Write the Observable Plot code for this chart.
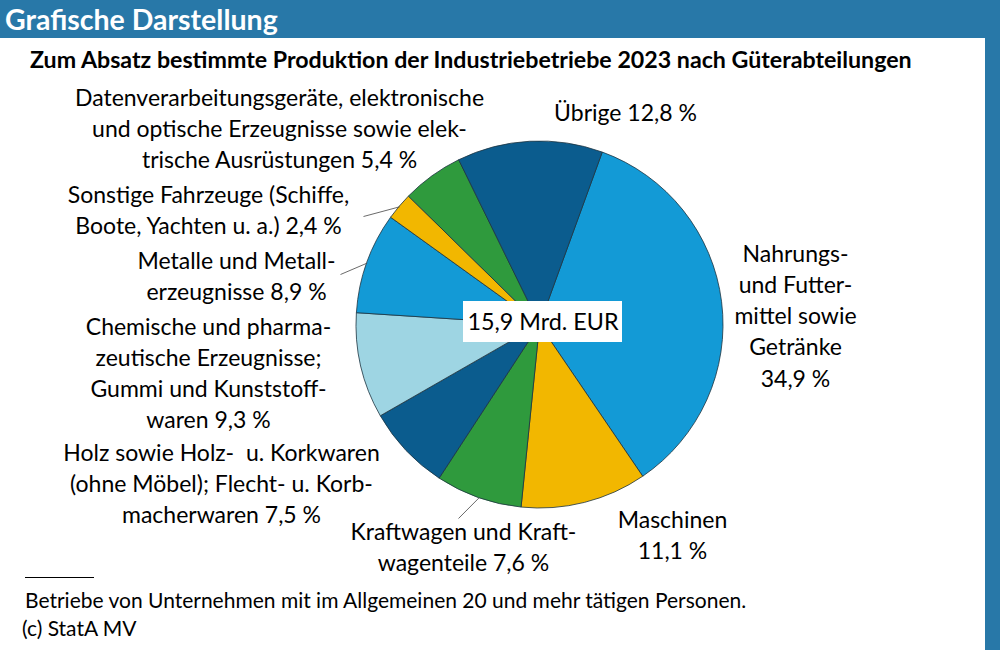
<!DOCTYPE html>
<html><head><meta charset="utf-8">
<script src="https://cdn.jsdelivr.net/npm/d3@7"></script>
<script src="https://cdn.jsdelivr.net/npm/@observablehq/plot@0.6"></script>
<style>
body{margin:0;width:1000px;height:650px;position:relative;overflow:hidden;background:#fff;font-family:Lato,"Open Sans",sans-serif;color:#000}
#hdr{position:absolute;left:0;top:0;width:1000px;height:38px;background:#2878a8;color:#fff;font-weight:bold;font-size:28.5px;line-height:38px;padding-left:5px;box-sizing:border-box;white-space:nowrap}
#side{position:absolute;left:985px;top:38px;width:15px;height:612px;background:#2878a8}
#title{position:absolute;left:30px;top:45px;font-weight:bold;font-size:23.2px;line-height:28px;white-space:nowrap}
#chart{position:absolute;left:0;top:75px}
#rule{position:absolute;left:25px;top:577px;width:69px;height:0;border-top:1.5px solid #000}
#note{position:absolute;left:25px;top:587px;font-size:21px;line-height:26px;white-space:nowrap}
#src{position:absolute;left:22px;top:615px;font-size:21px;line-height:26px;white-space:nowrap}
</style></head>
<body>
<div id="hdr">Grafische Darstellung</div>
<div id="side"></div>
<div id="title">Zum Absatz bestimmte Produktion der Industriebetriebe 2023 nach Güterabteilungen</div>
<div id="chart"></div>
<div id="rule"></div>
<div id="note">Betriebe von Unternehmen mit im Allgemeinen 20 und mehr tätigen Personen.</div>
<div id="src">(c) StatA MV</div>
<script>
// ---- data ----
const categories = [
  "Nahrungs- und Futtermittel sowie Getränke",
  "Maschinen",
  "Kraftwagen und Kraftwagenteile",
  "Holz sowie Holz- u. Korkwaren (ohne Möbel); Flecht- u. Korbmacherwaren",
  "Chemische und pharmazeutische Erzeugnisse; Gummi und Kunststoffwaren",
  "Metalle und Metallerzeugnisse",
  "Sonstige Fahrzeuge (Schiffe, Boote, Yachten u. a.)",
  "Datenverarbeitungsgeräte, elektronische und optische Erzeugnisse sowie elektrische Ausrüstungen",
  "Übrige"
];
const shares = [34.9, 11.1, 7.6, 7.5, 9.3, 8.9, 2.4, 5.4, 12.8];
const labels = [
  "Nahrungs-\nund Futter-\nmittel sowie\nGetränke\n34,9 %",
  "Maschinen\n11,1 %",
  "Kraftwagen und Kraft-\nwagenteile 7,6 %",
  "Holz sowie Holz-  u. Korkwaren\n(ohne Möbel); Flecht- u. Korb-\nmacherwaren 7,5 %",
  "Chemische und pharma-\nzeutische Erzeugnisse;\nGummi und Kunststoff-\nwaren 9,3 %",
  "Metalle und Metall-\nerzeugnisse 8,9 %",
  "Sonstige Fahrzeuge (Schiffe,\nBoote, Yachten u. a.) 2,4 %",
  "Datenverarbeitungsgeräte, elektronische\nund optische Erzeugnisse sowie elek-\ntrische Ausrüstungen 5,4 %",
  "Übrige 12,8 %"
];
const totalLabel = "15,9 Mrd. EUR";
const colors = ["#139ad6", "#f2b700", "#2f9a3d", "#0b5c8e", "#9ed5e3", "#139ad6", "#f2b700", "#2f9a3d", "#0b5c8e"];

// ---- layout ----
const W = 985, H = 500, top0 = 75;
const cx = 539.5, cy = 324.5, R = 183.5;
const startDeg = 20;
const labelPos = [
  [795, 314], [672, 533], [463, 545], [221, 482], [208, 371], [236, 274], [208, 208], [279, 127], [625, 111]
];
const leaderEnds = {5: [340, 274], 6: [363, 216], 2: [458, 518]};

const rows = categories.map((c, i) => ({cat: c, value: shares[i], label: labels[i], lx: labelPos[i][0], ly: labelPos[i][1]}));
const pie = d3.pie().value(d => d.value).sort(null)
  .startAngle(startDeg * Math.PI / 180).endAngle(startDeg * Math.PI / 180 + 2 * Math.PI);
const arcs = pie(rows);
const leaders = Object.entries(leaderEnds).map(([i, e]) => {
  const a = arcs[+i]; const m = (a.startAngle + a.endAngle) / 2;
  return {x1: cx + R * Math.sin(m), y1: cy - R * Math.cos(m), x2: e[0], y2: e[1]};
});

function pieMark(index, scales, values, dims) {
  const x = scales.x, y = scales.y;
  const color = scales.color || d3.scaleOrdinal(categories, colors);
  const px = x(cx), py = y(cy);
  const pr = x(cx + R) - px;
  const arc = d3.arc().innerRadius(0).outerRadius(pr);
  const g = d3.create("svg:g").attr("transform", `translate(${px},${py})`);
  g.selectAll("path").data(arcs).join("path")
    .attr("d", arc)
    .attr("fill", d => color(d.data.cat))
    .attr("stroke", "#1d3340")
    .attr("stroke-width", 0.8)
    .attr("stroke-linejoin", "round");
  return g.node();
}

const plot = Plot.plot({
  width: W, height: H,
  margin: 0,
  x: {domain: [0, W], range: [0, W], axis: null},
  y: {domain: [top0, top0 + H], range: [0, H], axis: null},
  color: {type: "ordinal", domain: categories, range: colors},
  style: {fontFamily: "Lato, 'Open Sans', sans-serif", background: "transparent", overflow: "visible"},
  marks: [
    pieMark,
    Plot.link(leaders, {x1: "x1", y1: "y1", x2: "x2", y2: "y2", stroke: "#444", strokeWidth: 0.8}),
    Plot.rect([0], {x1: () => cx - 76.5, x2: () => cx + 82.5, y1: () => cy - 23.5, y2: () => cy + 17.5, fill: "white"}),
    Plot.text([totalLabel], {x: () => cx + 3, y: () => cy - 2, text: d => d, fontSize: 23.3, fill: "#000"}),
    Plot.text(rows, {x: "lx", y: "ly", text: "label", fontSize: 23, lineHeight: 1.35, textAnchor: "middle", lineAnchor: "middle", fill: "#000"})
  ]
});
document.getElementById("chart").appendChild(plot);
</script>
</body></html>
